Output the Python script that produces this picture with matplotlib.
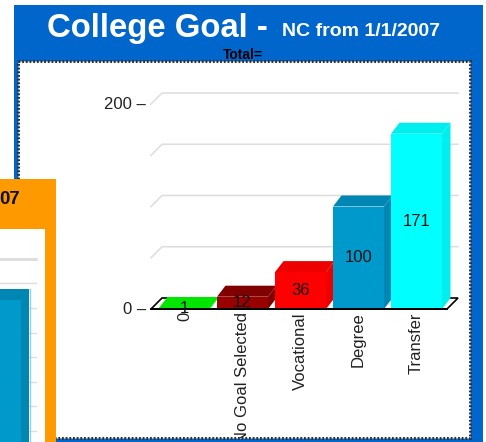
import matplotlib
matplotlib.use("Agg")
import matplotlib.pyplot as plt
from matplotlib.patches import Polygon, Rectangle

plt.rcParams['font.family'] = ['Liberation Sans', 'DejaVu Sans']

# data
categories = ["0", "No Goal Selected", "Vocational", "Degree", "Transfer"]
values = [1, 12, 36, 100, 171]
grid_vals = [50, 100, 150, 200]
y_ticks = [0, 200]
inset_grid = [25, 50, 75, 100, 125, 150, 175, 200]
inset_value = 169

# colors (front, top and side)
front_cols = ["#00ff00", "#990000", "#ff0000", "#0099cc", "#00ffff"]
side_cols = ["#00e600", "#800000", "#ee0000", "#0086b3", "#00eeee"]

W, H = 486, 442
fig = plt.figure(figsize=(W/100, H/100), dpi=100, facecolor="white")

# panels, in pixels
bg = fig.add_axes([0, 0, 1, 1], zorder=0)
bg.set_xlim(0, W)
bg.set_ylim(H, 0)
bg.axis("off")
bg.add_patch(Rectangle((14, 5), 469, H-5, color="#0066cc", lw=0))
bg.add_patch(Rectangle((18, 61), 452, 377, fc="white", ec="#333333", lw=2.2, ls=(0, (0.6, 0.6))))
bg.text(47, 28, "College Goal -", color="white", fontsize=23.7, fontweight="bold", va="center")
bg.text(282, 31, "NC from 1/1/2007", color="white", fontsize=14, fontweight="bold", va="center")


def pos(l, t, r, b):
    return [l/W, 1-b/H, (r-l)/W, (b-t)/H]


# main chart
ax = fig.add_axes(pos(18, 61, 470, 438), zorder=1)
pitch = 58.0
yscale = 1.025
cx = 184.5
ax.set_xlim((18-cx)/pitch, (470-cx)/pitch)
ax.set_ylim(-(438-309)/yscale, (309-61)/yscale)
ax.axis("off")
ax.patch.set_alpha(0)

half = 25.5/pitch
dx = 8.5/pitch
dy = 11/yscale
fdx = 11/pitch
x0 = (151-cx)/pitch
x1 = (447-cx)/pitch

for g in grid_vals:
    ax.plot([x0, x0+fdx, x1+fdx], [g, g+dy, g+dy], color="#dddddd", lw=1.1, zorder=1)

# floor
ax.add_patch(Polygon([(x0, 0), (x1, 0), (x1+fdx, dy), (x0+fdx, dy)], closed=True,
                     fc="white", ec="black", lw=1.2, zorder=2))

for i, v in enumerate(values):
    l, r = i-half, i+half
    ax.add_patch(Polygon([(l, v), (r, v), (r+dx, v+dy), (l+dx, v+dy)], color=side_cols[i], lw=0, zorder=3))
    ax.add_patch(Polygon([(r, 0), (r+dx, dy), (r+dx, v+dy), (r, v)], color=side_cols[i], lw=0, zorder=3))
    ax.add_patch(Rectangle((l, 0), r-l, v, color=front_cols[i], lw=0, zorder=4))
    ax.text(i, v/2, str(v), ha="center", va="center", fontsize=12, color="#111111", zorder=7)
    ax.text(i, -3, categories[i], rotation=90, ha="center", va="top", fontsize=12,
            color="#222222", zorder=6, clip_on=True)

ax.plot([x0, x1], [0, 0], color="black", lw=1.4, zorder=5)

for t in y_ticks:
    ax.text((146-cx)/pitch, t, str(t) + " \u2013", ha="right", va="center", fontsize=12, color="#222222")

# text sitting on the border
bg2 = fig.add_axes([0, 0, 1, 1], zorder=2)
bg2.set_xlim(0, W)
bg2.set_ylim(H, 0)
bg2.axis("off")
bg2.patch.set_alpha(0)
bg2.text(243, 55, "Total=", color="black", fontsize=10, fontweight="bold", ha="center", va="center")

# second window overlapping at lower left
bg2.add_patch(Rectangle((0, 179), 56, H-179, color="#ff9900", lw=0))
bg2.add_patch(Rectangle((0, 229), 45, H-229, color="white", lw=0))
bg2.text(20, 200, "07", color="#111111", fontsize=13.5, fontweight="bold", ha="right", va="center")

ins = fig.add_axes(pos(0, 229, 45, 442), zorder=3)
ins.set_xlim(0, 45)
ins.set_ylim(13.3, 230.6)
ins.axis("off")
ins.patch.set_alpha(0)
for g in inset_grid:
    ins.plot([0, 36], [g, g], color="#dddddd", lw=2 if g == 200 else 1, zorder=1)
ins.add_patch(Polygon([(0, inset_value), (29, inset_value), (29, 0), (21, 0), (21, inset_value-11), (0, inset_value-11)],
                      closed=True, color="#0086b3", lw=0, zorder=3))
ins.add_patch(Rectangle((0, 0), 21, inset_value-11, color="#0099cc", lw=0, zorder=3))
ins.plot([29.5, 29.5], [0, inset_value], color="#8fd0e6", lw=1, zorder=4)

fig.savefig("out.png", dpi=100)
